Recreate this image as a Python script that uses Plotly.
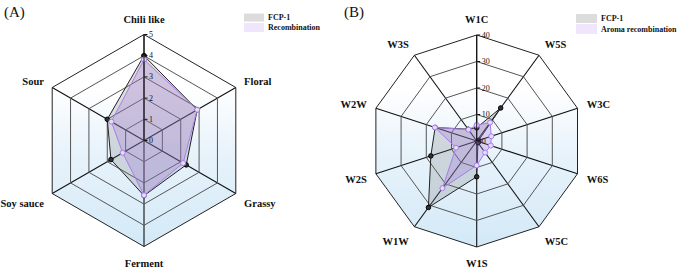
import numpy as np
import plotly.graph_objects as go

# ---------------- data ----------------
attrs_a = ["Chili like", "Floral", "Grassy", "Ferment", "Soy sauce", "Sour"]
fcp_a = [4.0, 2.9, 2.3, 2.6, 1.8, 2.0]
rec_a = [3.82, 2.9, 2.13, 2.58, 1.16, 1.78]
ticks_a = [0, 1, 2, 3, 4, 5]

sensors_b = ["W1C", "W5S", "W3C", "W6S", "W5C", "W1S", "W1W", "W2S", "W2W", "W3S"]
fcp_b = [5.0, 15.4, 0.8, 0.8, 0.8, 13.5, 31.0, 18.2, 16.5, 5.5]
rec_b = [6.0, 8.6, 5.8, 5.6, 5.4, 9.2, 22.0, 8.2, 16.6, 5.3]
ticks_b = [0, 10, 20, 30, 40]

W, H = 680, 268
SERIF = "Liberation Serif"
R_PX = 106
centers = [(144, 140.5), (476.7, 141)]


def dom(cx, cy):
    return dict(x=[(cx - R_PX) / W, (cx + R_PX) / W],
                y=[(H - cy - R_PX) / H, (H - cy + R_PX) / H])


def closed(v):
    return list(v) + [v[0]]


fig = go.Figure()

# gradient backgrounds (cartesian helper axes aligned to polar domains)
for i, n in enumerate([len(attrs_a), len(sensors_b)]):
    ang = np.deg2rad(np.arange(n + 1) * 360.0 / n)
    fig.add_trace(go.Scatter(
        x=np.sin(ang), y=np.cos(ang), mode="lines", fill="toself",
        fillgradient=dict(type="vertical",
                          colorscale=[[0, "#d3e9f7"], [0.45, "#e8f3fb"], [0.75, "#ffffff"], [1, "#ffffff"]]),
        line=dict(width=0), hoverinfo="skip", showlegend=False,
        xaxis="x" if i == 0 else "x2", yaxis="y" if i == 0 else "y2"))

gray_fill = "rgba(110,110,110,0.22)"
purple_line = "#a77de6"
purple_fill = "rgba(160,120,220,0.28)"

for sub, cats, f, r in [("polar", attrs_a, fcp_a, rec_a), ("polar2", sensors_b, fcp_b, rec_b)]:
    fig.add_trace(go.Scatterpolar(
        r=closed(f), theta=closed(cats), subplot=sub, mode="lines+markers",
        fill="toself", fillcolor=gray_fill,
        line=dict(color="#222222", width=1),
        marker=dict(size=4.5, color="#333333", line=dict(color="#000000", width=1)),
        showlegend=False, name="FCP-1", hoverinfo="skip"))
    fig.add_trace(go.Scatterpolar(
        r=closed(r), theta=closed(cats), subplot=sub, mode="lines+markers",
        fill="toself", fillcolor=purple_fill,
        line=dict(color=purple_line, width=1),
        marker=dict(size=5, color="#e6dcf7", line=dict(color=purple_line, width=1)),
        showlegend=False, name="Recombination", hoverinfo="skip"))


def polar_cfg(d, rng, tv):
    return dict(
        domain=d, bgcolor="rgba(0,0,0,0)", gridshape="linear",
        angularaxis=dict(rotation=90, direction="clockwise", showline=True,
                         linecolor="#222222", linewidth=1, gridcolor="#111111",
                         gridwidth=1.1, ticks="outside", ticklen=7,
                         tickcolor="rgba(0,0,0,0)",
                         tickfont=dict(family=SERIF, size=10.5, color="#111111", weight="bold")),
        radialaxis=dict(range=rng, tickvals=tv, angle=90, tickangle=90,
                        side="clockwise", showline=True, linecolor="#111111",
                        linewidth=1, gridcolor="#555555", gridwidth=1,
                        ticks="outside", ticklen=3, tickcolor="#111111",
                        tickfont=dict(family=SERIF, size=8, color="#111111")))


da = dom(*centers[0])
db = dom(*centers[1])

fig.update_layout(
    width=W, height=H, margin=dict(l=0, r=0, t=0, b=0),
    paper_bgcolor="white", plot_bgcolor="rgba(0,0,0,0)",
    showlegend=False,
    polar=polar_cfg(da, [0, 5], ticks_a),
    polar2=polar_cfg(db, [0, 40], ticks_b),
    xaxis=dict(domain=da["x"], range=[-1, 1], visible=False, fixedrange=True),
    yaxis=dict(domain=da["y"], range=[-1, 1], visible=False, fixedrange=True),
    xaxis2=dict(domain=db["x"], range=[-1, 1], visible=False, fixedrange=True),
    yaxis2=dict(domain=db["y"], range=[-1, 1], visible=False, fixedrange=True),
)

# panel labels
for txt, x in [("(A)", 2), ("(B)", 342)]:
    fig.add_annotation(x=x / W, y=1 - 2 / H, xref="paper", yref="paper",
                       xanchor="left", yanchor="top", text=txt, showarrow=False,
                       font=dict(family=SERIF, size=15, color="#111111"))

# manual legends
legend_items = [
    (244, 264, [(13.5, 21.5, "#dcdcdc", "FCP-1"), (23, 32, "#efe6fb", "Recombination")]),
    (576, 597, [(14, 23, "#dcdcdc", "FCP-1"), (24, 34, "#efe6fb", "Aroma recombination")]),
]
for x0, x1, rows in legend_items:
    for y0, y1, col, label in rows:
        fig.add_shape(type="rect", xref="paper", yref="paper",
                      x0=x0 / W, x1=x1 / W, y0=1 - y0 / H, y1=1 - y1 / H,
                      fillcolor=col, line=dict(width=0))
        fig.add_annotation(x=(x1 + 1.5) / W, y=1 - ((y0 + y1) / 2) / H, xref="paper", yref="paper",
                           xanchor="left", yanchor="middle", text=label, showarrow=False,
                           font=dict(family=SERIF, size=8, color="#111111", weight="bold"))

fig.write_html("out.html", config={"displayModeBar": False, "staticPlot": True},
               post_script="document.body.style.margin='0';document.body.style.overflow='hidden';")
